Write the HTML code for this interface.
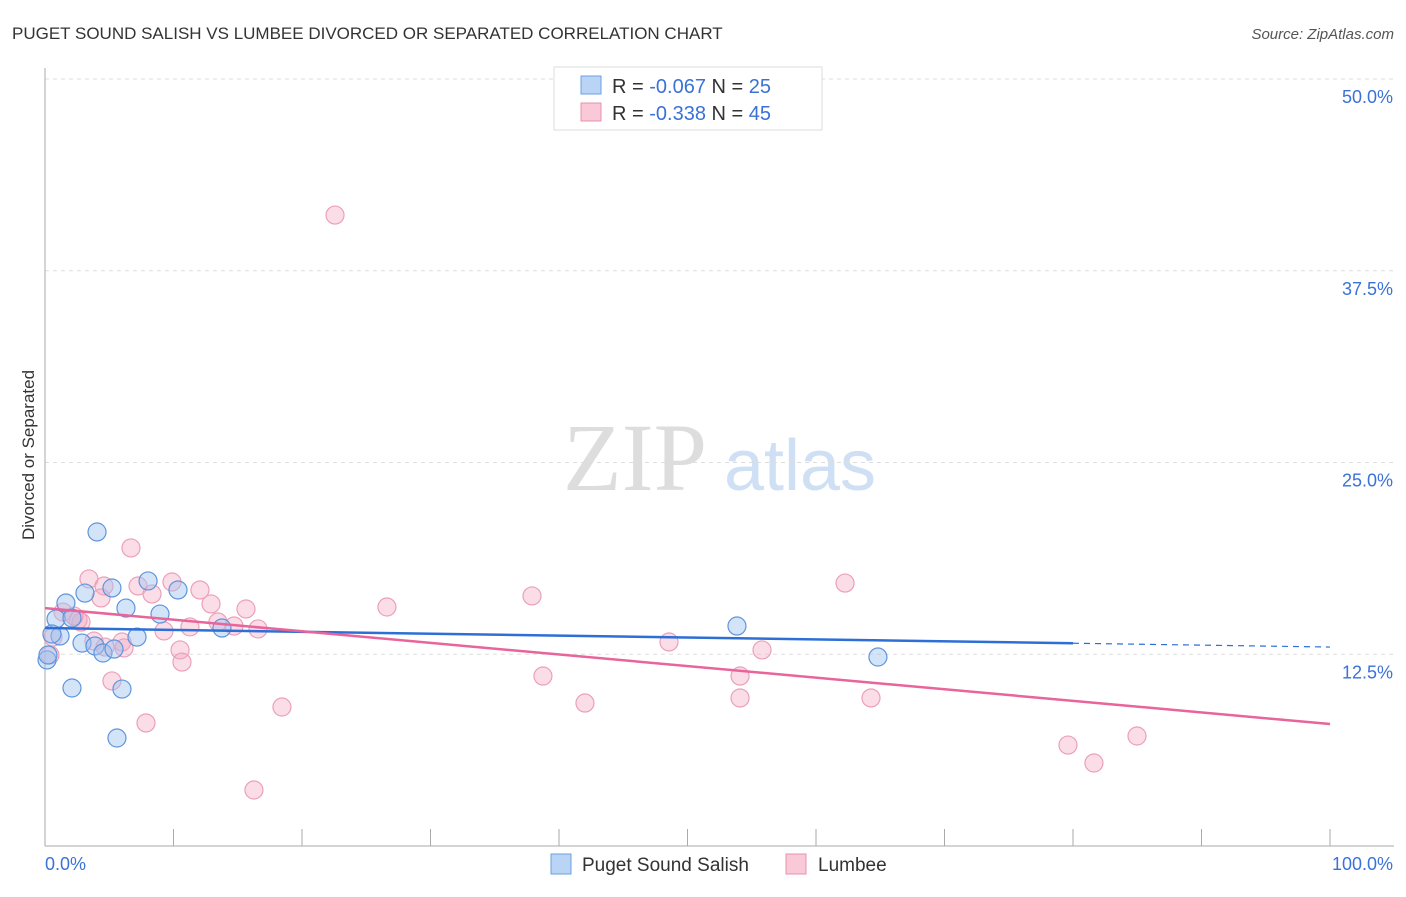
<!DOCTYPE html>
<html><head><meta charset="utf-8"><style>
body{margin:0;background:#fff;font-family:"Liberation Sans",sans-serif}
</style></head><body>
<svg width="1406" height="892" xmlns="http://www.w3.org/2000/svg" font-family="Liberation Sans, sans-serif">
<text x="12" y="39" font-size="17" fill="#333">PUGET SOUND SALISH VS LUMBEE DIVORCED OR SEPARATED CORRELATION CHART</text>
<text x="1394" y="39" font-size="15" fill="#555" text-anchor="end" font-style="italic">Source: ZipAtlas.com</text>
<text x="34" y="455" font-size="17" fill="#333" text-anchor="middle" transform="rotate(-90 34 455)">Divorced or Separated</text>
<g><text x="635" y="490" font-size="96" fill="#ddd" font-family="Liberation Serif, serif" text-anchor="middle">ZIP</text><text x="800" y="490" font-size="72" fill="#cfe0f5" text-anchor="middle">atlas</text></g>
<g id="grid"></g><g id="axes"></g><g id="marks"></g>
<g>
<rect x="554" y="67" width="268" height="63" fill="#fff" stroke="#ddd"/>
<rect x="581" y="76" width="20" height="18" fill="#b9d4f5" stroke="#6aa0e0"/>
<rect x="581" y="103" width="20" height="18" fill="#f9c9d8" stroke="#e890ae"/>
<text x="612" y="93" font-size="20" fill="#333">R = <tspan fill="#3a72d8">-0.067</tspan>   N = <tspan fill="#3a72d8">25</tspan></text>
<text x="612" y="120" font-size="20" fill="#333">R = <tspan fill="#3a72d8">-0.338</tspan>   N = <tspan fill="#3a72d8">45</tspan></text>
</g>
<g>
<rect x="551" y="854" width="20" height="20" fill="#b9d4f5" stroke="#6aa0e0"/>
<text x="582" y="871" font-size="19" fill="#333">Puget Sound Salish</text>
<rect x="786" y="854" width="20" height="20" fill="#f9c9d8" stroke="#e890ae"/>
<text x="818" y="871" font-size="19" fill="#333">Lumbee</text>
</g>
</svg>
<script>
const yTicks=[12.5,25,37.5,50];
const yTickLabels=["12.5%","25.0%","37.5%","50.0%"];
const blueX=[4.05,1.63,3.11,5.21,8.02,10.35,6.30,8.95,0.86,2.10,1.17,0.54,2.88,3.89,4.51,5.37,7.16,13.77,2.10,5.99,5.60,53.85,64.82,0.16,0.23];
const blueY=[20.47,15.84,16.49,16.82,17.28,16.69,15.51,15.12,14.80,14.86,13.69,13.82,13.23,13.04,12.58,12.84,13.62,14.21,10.30,10.23,7.04,14.34,12.32,12.13,12.45];
const pinkX=[22.57,6.69,3.42,4.59,7.24,9.88,12.06,8.33,4.36,12.92,15.64,26.61,37.90,62.26,1.40,2.57,2.80,13.46,11.28,9.26,14.71,16.58,3.81,5.99,6.15,10.51,10.66,48.56,55.80,0.62,0.39,5.21,38.75,54.09,7.86,18.44,42.02,54.09,64.28,79.61,84.98,81.63,16.26,2.26,4.67];
const pinkY=[41.13,19.43,17.41,16.95,16.95,17.21,16.69,16.43,16.17,15.78,15.45,15.58,16.30,17.14,15.25,14.73,14.60,14.60,14.28,14.02,14.34,14.15,13.36,13.30,12.91,12.78,11.99,13.30,12.78,13.62,12.45,10.76,11.08,11.08,8.02,9.06,9.32,9.65,9.65,6.58,7.17,5.41,3.65,14.99,12.97];
const blueTrend=[14.21,12.97];
const pinkTrend=[15.51,7.95];
const NS="http://www.w3.org/2000/svg";
const xs=v=>45+v*12.85, ys=v=>846-v*15.34;
function mk(t,a,p){const e=document.createElementNS(NS,t);for(const k in a)e.setAttribute(k,a[k]);document.getElementById(p).appendChild(e);return e;}
yTicks.forEach((t,i)=>{
 const l=mk('line',{x1:45,x2:1394,y1:ys(t),y2:ys(t),stroke:'#ddd','stroke-dasharray':'4,4'},'grid');
 
 
 const tx=mk('text',{x:1393,y:ys(t)+24,'font-size':18,fill:'#3a72d8','text-anchor':'end'},'axes');
 tx.textContent=yTickLabels[i];
 
 
});
let a=mk('line',{x1:45,x2:45,y1:68,y2:846,stroke:'#aaa'},'axes');


a=mk('line',{x1:45,x2:1394,y1:846,y2:846,stroke:'#aaa'},'axes');


for(let i=0;i<=10;i++){const t=mk('line',{x1:xs(i*10),x2:xs(i*10),y1:829,y2:846,stroke:'#aaa'},'axes');
 
 }
let t0=mk('text',{x:45,y:870,'font-size':18,fill:'#3a72d8'},'axes');t0.textContent='0.0%';


let t1=mk('text',{x:1393,y:870,'font-size':18,fill:'#3a72d8','text-anchor':'end'},'axes');t1.textContent='100.0%';


pinkX.forEach((x,i)=>{const c=mk('circle',{cx:xs(x),cy:ys(pinkY[i]),r:9,fill:'rgba(245,170,195,0.4)',stroke:'#eba0ba','stroke-width':1.2},'marks');
 
 });
blueX.forEach((x,i)=>{const c=mk('circle',{cx:xs(x),cy:ys(blueY[i]),r:9,fill:'rgba(160,195,240,0.45)',stroke:'#5f95dc','stroke-width':1.2},'marks');
 
 });
const bAt=v=>blueTrend[0]+(blueTrend[1]-blueTrend[0])*v/100;
let l=mk('line',{x1:xs(0),y1:ys(bAt(0)),x2:xs(80),y2:ys(bAt(80)),stroke:'#2e6fd6','stroke-width':2.5},'marks');


l=mk('line',{x1:xs(80),y1:ys(bAt(80)),x2:xs(100),y2:ys(bAt(100)),stroke:'#2e6fd6','stroke-width':1.2,'stroke-dasharray':'6,5'},'marks');


l=mk('line',{x1:xs(0),y1:ys(pinkTrend[0]),x2:xs(100),y2:ys(pinkTrend[1]),stroke:'#e8649a','stroke-width':2.5},'marks');


</script>
</body></html>
